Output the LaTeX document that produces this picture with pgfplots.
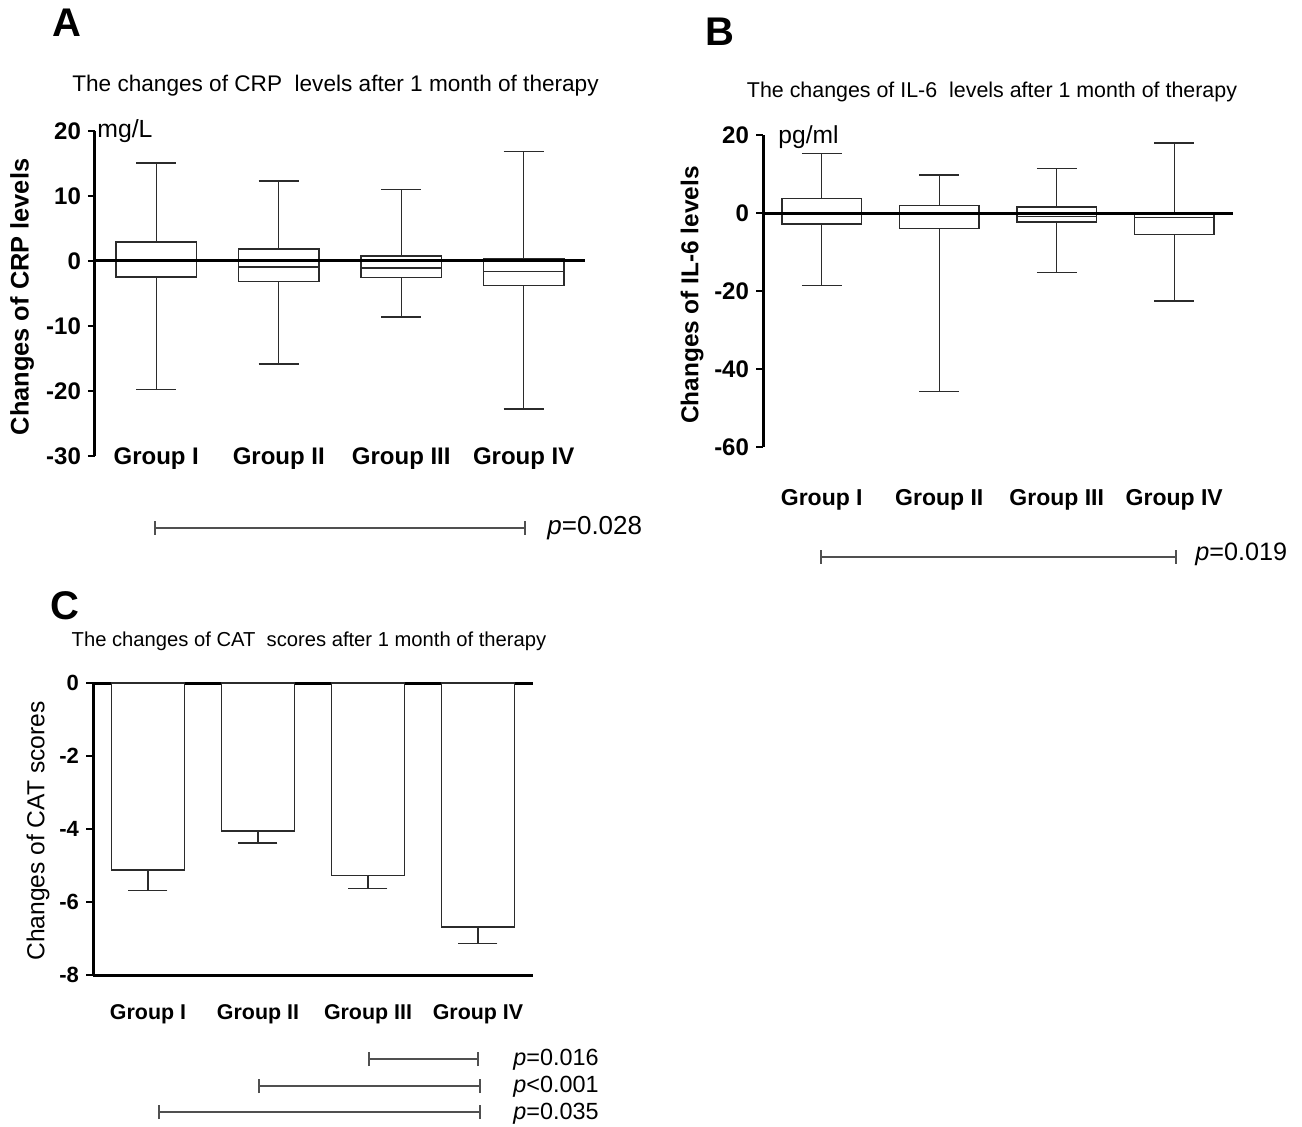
\documentclass[border=0pt]{standalone}
\usepackage{pgfplots}
\pgfplotsset{compat=1.18}
\usepgfplotslibrary{statistics}
\usepackage{fontspec}
\setmainfont{Liberation Sans}
\newcommand{\fs}[1]{\fontsize{#1}{#1}\selectfont}
\definecolor{boxc}{HTML}{2B2B2B}
\definecolor{pbar}{HTML}{505050}
\pgfplotsset{
  common/.style={scale only axis, enlargelimits=false, xmin=0.5, xmax=4.5,
    xtick={1,2,3,4}, xticklabels={Group I,Group II,Group III,Group IV},
    axis y line*=left, axis x line*=bottom,
    x axis line style={draw=none}, xtick style={draw=none},
    y axis line style={line width=1.5pt},
    ytick style={line width=1.3pt, black},
    tick align=outside, major tick length=3.5pt, clip=false,
    boxplot/draw direction=y},
  bx/.style={boxplot prepared={#1}, draw=boxc, line width=0.7pt, fill=white, solid}
}
\begin{document}
\begin{tikzpicture}
% ---------- Panel A ----------
\begin{axis}[common, width=245pt, height=162.5pt, at={(47.5pt,335pt)}, anchor=south west,
  ymin=-30, ymax=20, ytick={-30,-20,-10,0,10,20}, yticklabels={-30,-20,-10,0,10,20},
  yticklabel style={font=\bfseries\fs{12}},
  xticklabel style={font=\bfseries\fs{12}, anchor=center, yshift=2pt}]
\addplot[bx={draw position=1, median=-0.1, upper quartile=2.9, lower quartile=-2.45, upper whisker=15.1, lower whisker=-19.8, box extend=0.66, whisker extend=0.33}] coordinates {};
\addplot[bx={draw position=2, median=-0.95, upper quartile=1.85, lower quartile=-3.2, upper whisker=12.3, lower whisker=-15.85, box extend=0.66, whisker extend=0.33}] coordinates {};
\addplot[bx={draw position=3, median=-1.07, upper quartile=0.77, lower quartile=-2.5, upper whisker=11.0, lower whisker=-8.6, box extend=0.66, whisker extend=0.33}] coordinates {};
\addplot[bx={draw position=4, median=-1.6, upper quartile=0.4, lower quartile=-3.8, upper whisker=16.8, lower whisker=-22.75, box extend=0.66, whisker extend=0.33}] coordinates {};
\addplot[black, line width=1.5pt] coordinates {(0.5,0) (4.5,0)};
\end{axis}
% ---------- Panel B ----------
\begin{axis}[common, width=235pt, height=156pt, at={(381.5pt,339.5pt)}, anchor=south west,
  ymin=-60, ymax=20, ytick={-60,-40,-20,0,20}, yticklabels={-60,-40,-20,0,20},
  yticklabel style={font=\bfseries\fs{12}},
  xticklabel style={font=\bfseries\fs{11.5}, anchor=center, yshift=-23pt}]
\addplot[bx={draw position=1, median=0.1, upper quartile=3.7, lower quartile=-2.8, upper whisker=15.3, lower whisker=-18.6, box extend=0.675, whisker extend=0.34}] coordinates {};
\addplot[bx={draw position=2, median=-0.3, upper quartile=2.0, lower quartile=-3.9, upper whisker=9.7, lower whisker=-45.8, box extend=0.675, whisker extend=0.34}] coordinates {};
\addplot[bx={draw position=3, median=-0.9, upper quartile=1.5, lower quartile=-2.3, upper whisker=11.4, lower whisker=-15.2, box extend=0.675, whisker extend=0.34}] coordinates {};
\addplot[bx={draw position=4, median=-1.2, upper quartile=0.05, lower quartile=-5.5, upper whisker=17.9, lower whisker=-22.6, box extend=0.675, whisker extend=0.34}] coordinates {};
\addplot[black, line width=1.5pt] coordinates {(0.5,0) (4.5,0)};
\end{axis}
% ---------- Panel C ----------
\begin{axis}[scale only axis, enlargelimits=false, width=220pt, height=146pt, at={(46.5pt,75.5pt)}, anchor=south west,
  xmin=0.5, xmax=4.5, ymin=-8, ymax=0,
  xtick={1,2,3,4}, xticklabels={Group I,Group II,Group III,Group IV},
  axis x line=box, axis y line*=left,
  x axis line style={line width=1.5pt}, y axis line style={line width=1.5pt},
  xtick style={draw=none}, ytick style={line width=1.3pt, black},
  tick align=outside, major tick length=3.5pt, clip=false,
  ytick={-8,-6,-4,-2,0}, yticklabels={-8,-6,-4,-2,0},
  yticklabel style={font=\bfseries\fs{11}},
  xticklabel style={font=\bfseries\fs{10.7}, anchor=center, yshift=-16pt}]
\addplot[ybar, bar width=0.66, fill=white, draw=boxc, line width=0.7pt,
  error bars/.cd, y dir=minus, y explicit,
  error bar style={line width=0.7pt, draw=boxc},
  error mark options={rotate=90, mark size=9.75pt, line width=0.7pt, draw=boxc}]
  coordinates {(1,-5.12) -= (0,0.57) (2,-4.06) -= (0,0.32) (3,-5.28) -= (0,0.35) (4,-6.68) -= (0,0.46)};
\end{axis}
% ---------- Annotations ----------
\node[font=\bfseries\fs{20}, inner sep=0] at (33.5pt,551.5pt) {A};
\node[font=\bfseries\fs{20}, inner sep=0] at (360pt,547pt) {B};
\node[font=\bfseries\fs{20}, inner sep=0] at (32.5pt,260pt) {C};
\node[font=\fs{11.3}, inner sep=0] at (167.75pt,520pt) {The changes of CRP\ \ levels after 1 month of therapy};
\node[font=\fs{10.7}, inner sep=0] at (496pt,517pt) {The changes of IL-6\ \ levels after 1 month of therapy};
\node[font=\fs{10.1}, inner sep=0] at (154.5pt,242.5pt) {The changes of CAT\ \ scores after 1 month of therapy};
\node[font=\bfseries\fs{12.7}, rotate=90, inner sep=0] at (11pt,414.5pt) {Changes of CRP levels};
\node[font=\bfseries\fs{12.2}, rotate=90, inner sep=0] at (346pt,415.5pt) {Changes of IL-6 levels};
\node[font=\fs{12.3}, rotate=90, inner sep=0] at (19pt,147.5pt) {Changes of CAT scores};
\node[font=\fs{12.4}, anchor=west, inner sep=0] at (48.5pt,497.5pt) {mg/L};
\node[font=\fs{12.3}, anchor=west, inner sep=0] at (389pt,494.5pt) {pg/ml};
% p-value bars
\draw[pbar, line width=0.65pt] (77.5pt,299pt) -- (262.5pt,299pt);
\draw[pbar, line width=0.65pt] (77.5pt,295.5pt) -- (77.5pt,302.5pt) (262.5pt,295.5pt) -- (262.5pt,302.5pt);
\node[font=\fs{13}, anchor=west, inner sep=0] at (273.5pt,299pt) {\textit{p}=0.028};
\draw[pbar, line width=0.65pt] (410.5pt,284.5pt) -- (588pt,284.5pt);
\draw[pbar, line width=0.65pt] (410.5pt,281pt) -- (410.5pt,288pt) (588pt,281pt) -- (588pt,288pt);
\node[font=\fs{12.6}, anchor=west, inner sep=0] at (597.5pt,286pt) {\textit{p}=0.019};
\draw[pbar, line width=0.65pt] (184.5pt,33.5pt) -- (239pt,33.5pt);
\draw[pbar, line width=0.65pt] (184.5pt,30pt) -- (184.5pt,37pt) (239pt,30pt) -- (239pt,37pt);
\node[font=\fs{11.7}, anchor=west, inner sep=0] at (256.5pt,33pt) {\textit{p}=0.016};
\draw[pbar, line width=0.65pt] (129.5pt,20pt) -- (240pt,20pt);
\draw[pbar, line width=0.65pt] (129.5pt,16.5pt) -- (129.5pt,23.5pt) (240pt,16.5pt) -- (240pt,23.5pt);
\node[font=\fs{11.7}, anchor=west, inner sep=0] at (256.5pt,19.5pt) {\textit{p}<0.001};
\draw[pbar, line width=0.65pt] (79.5pt,7pt) -- (240pt,7pt);
\draw[pbar, line width=0.65pt] (79.5pt,3.5pt) -- (79.5pt,10.5pt) (240pt,3.5pt) -- (240pt,10.5pt);
\node[font=\fs{11.7}, anchor=west, inner sep=0] at (256.5pt,6pt) {\textit{p}=0.035};
\pgfresetboundingbox
\useasboundingbox (0,0) rectangle (651pt,563pt);
\end{tikzpicture}
\end{document}
